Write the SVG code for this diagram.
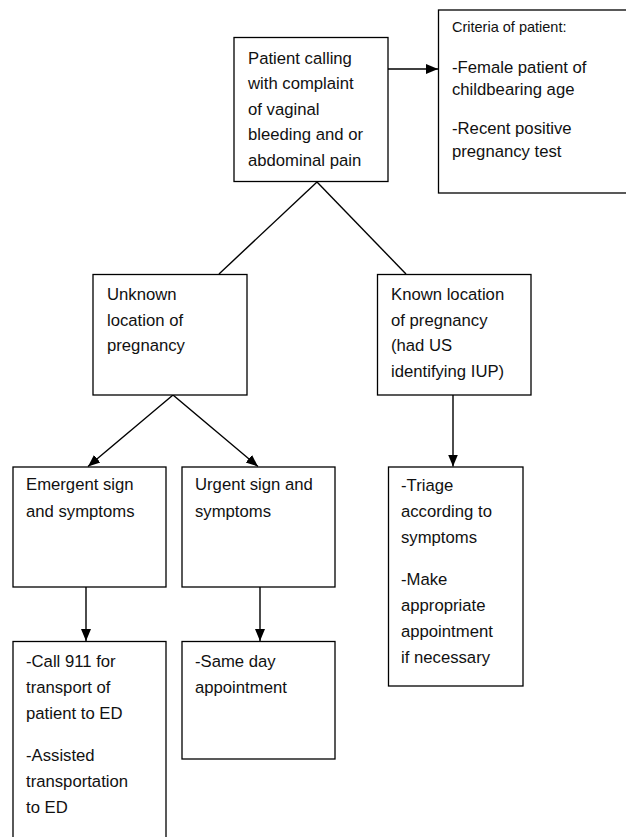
<svg xmlns="http://www.w3.org/2000/svg" width="626" height="837" viewBox="0 0 626 837">
<style>
.box{fill:#fff;stroke:#000;stroke-width:1.3}
.t{font-family:"Liberation Sans",Arial,sans-serif;font-size:16.7px;fill:#111}
.s{font-family:"Liberation Sans",Arial,sans-serif;font-size:14.5px;fill:#111}
.c{stroke:#000;stroke-width:1.4;fill:none}
</style>
<defs>
<marker id="ah" markerUnits="userSpaceOnUse" markerWidth="13" markerHeight="13" viewBox="0 0 13 13" refX="12" refY="6.5" orient="auto">
<path d="M0,1.5 L12,6.5 L0,11.5 Z" fill="#000"/>
</marker>
</defs>
<rect width="626" height="837" fill="#fff"/>
<g id="connectors">
<line class="c" x1="388" y1="69" x2="438" y2="69" marker-end="url(#ah)"/>
<line class="c" x1="317" y1="182" x2="219" y2="274"/>
<line class="c" x1="317" y1="182" x2="406" y2="274"/>
<line class="c" x1="173" y1="395" x2="88" y2="466.5" marker-end="url(#ah)"/>
<line class="c" x1="173" y1="395" x2="258" y2="466.5" marker-end="url(#ah)"/>
<line class="c" x1="86" y1="587" x2="86" y2="641" marker-end="url(#ah)"/>
<line class="c" x1="260" y1="587" x2="260" y2="641" marker-end="url(#ah)"/>
<line class="c" x1="453" y1="395" x2="453" y2="466.5" marker-end="url(#ah)"/>
</g>
<g id="start">
<rect class="box" x="234" y="37.5" width="154" height="144"/>
<text class="t" x="248" y="63.5">Patient calling</text>
<text class="t" x="248" y="89">with complaint</text>
<text class="t" x="248" y="114.5">of vaginal</text>
<text class="t" x="248" y="140">bleeding and or</text>
<text class="t" x="248" y="166">abdominal pain</text>
</g>
<g id="criteria">
<rect class="box" x="438.5" y="10" width="200" height="183"/>
<text class="s" x="452" y="32">Criteria of patient:</text>
<text class="t" x="452" y="72.5">-Female patient of</text>
<text class="t" x="452" y="95">childbearing age</text>
<text class="t" x="452" y="133.5">-Recent positive</text>
<text class="t" x="452" y="156.5">pregnancy test</text>
</g>
<g id="unknown">
<rect class="box" x="93" y="274.5" width="154" height="120.5"/>
<text class="t" x="107" y="299.5">Unknown</text>
<text class="t" x="107" y="325.5">location of</text>
<text class="t" x="107" y="351">pregnancy</text>
</g>
<g id="known">
<rect class="box" x="377.5" y="274.5" width="153.5" height="120.5"/>
<text class="t" x="391" y="299.5">Known location</text>
<text class="t" x="391" y="325.5">of pregnancy</text>
<text class="t" x="391" y="351">(had US</text>
<text class="t" x="391" y="376.5">identifying IUP)</text>
</g>
<g id="emergent">
<rect class="box" x="13" y="467" width="153" height="120"/>
<text class="t" x="26" y="490">Emergent sign</text>
<text class="t" x="26" y="516.5">and symptoms</text>
</g>
<g id="urgent">
<rect class="box" x="182" y="467" width="153" height="120"/>
<text class="t" x="195" y="490">Urgent sign and</text>
<text class="t" x="195" y="516.5">symptoms</text>
</g>
<g id="call911">
<rect class="box" x="13" y="641.5" width="153" height="210"/>
<text class="t" x="26" y="667">-Call 911 for</text>
<text class="t" x="26" y="692.5">transport of</text>
<text class="t" x="26" y="718.5">patient to ED</text>
<text class="t" x="26" y="760.5">-Assisted</text>
<text class="t" x="26" y="787">transportation</text>
<text class="t" x="26" y="812.5">to ED</text>
</g>
<g id="sameday">
<rect class="box" x="182" y="641.5" width="153" height="117.5"/>
<text class="t" x="195" y="667">-Same day</text>
<text class="t" x="195" y="692.5">appointment</text>
</g>
<g id="triage">
<rect class="box" x="388.5" y="467" width="134.5" height="219"/>
<text class="t" x="401" y="490.5">-Triage</text>
<text class="t" x="401" y="517">according to</text>
<text class="t" x="401" y="543">symptoms</text>
<text class="t" x="401" y="584.5">-Make</text>
<text class="t" x="401" y="611">appropriate</text>
<text class="t" x="401" y="637">appointment</text>
<text class="t" x="401" y="663">if necessary</text>
</g>
</svg>
